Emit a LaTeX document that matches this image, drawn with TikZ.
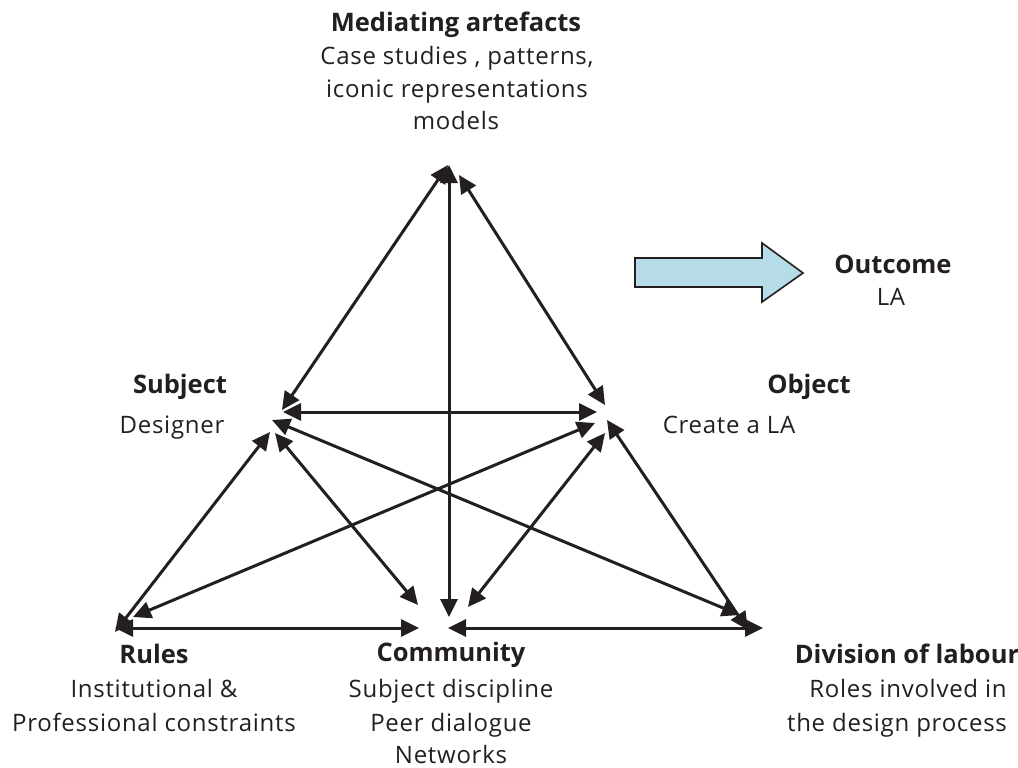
\documentclass[tikz,border=0pt]{standalone}
\usepackage{fontspec}
\setmainfont{Open Sans}
\newfontfamily\spacedfont[LetterSpace=3]{Open Sans}
\usetikzlibrary{arrows.meta}
\definecolor{ink}{HTML}{231F20}
\definecolor{flow}{HTML}{B5DCE7}
\begin{document}
\begin{tikzpicture}[x=1pt,y=-1pt,
  conn/.style={line width=3pt, draw=ink,
    {Triangle[length=18pt,width=17pt]}-{Triangle[length=18pt,width=17pt]}},
  lbl/.style={anchor=base, inner sep=0pt, text=ink, font=\spacedfont\fontsize{24}{30}\selectfont},
  ttl/.style={anchor=base, inner sep=0pt, text=ink, font=\fontsize{25.5}{30}\selectfont\bfseries}]
\useasboundingbox (0,0) rectangle (1018,768);

% --- end points around each corner of the activity triangle ---
% mediating artefacts (apex)
\coordinate (aL) at (448,165);
\coordinate (aV) at (449,165);
\coordinate (aR) at (459,175);
% subject
\coordinate (sT) at (282,410);
\coordinate (sH) at (283,412);
\coordinate (sD) at (272,420);
\coordinate (sR) at (270,432);
\coordinate (sC) at (275,433);
% object
\coordinate (oT) at (605,405);
\coordinate (oH) at (597,412);
\coordinate (oR) at (595,423);
\coordinate (oC) at (605,433);
\coordinate (oD) at (607,420);
% rules
\coordinate (rS) at (115,632);
\coordinate (rO) at (133,617);
\coordinate (rH) at (115,628);
% community
\coordinate (cS) at (418,605);
\coordinate (cV) at (449,617);
\coordinate (cO) at (468,607);
\coordinate (cL) at (419,628);
\coordinate (cR) at (448,628);
% division of labour
\coordinate (dS) at (740,615);
\coordinate (dO) at (748,630);
\coordinate (dH) at (763,628);

% --- double-headed relations ---
\draw[conn] (aL) -- (sT);
\draw[conn] (aR) -- (oT);
\draw[conn] (aV) -- (cV);
\draw[conn] (sH) -- (oH);
\draw[conn] (sR) -- (rS);
\draw[conn] (sC) -- (cS);
\draw[conn] (sD) -- (dS);
\draw[conn] (oR) -- (rO);
\draw[conn] (oC) -- (cO);
\draw[conn] (oD) -- (dO);
\draw[conn] (rH) -- (cL);
\draw[conn] (cR) -- (dH);

% --- block arrow towards the outcome ---
\draw[draw=ink, fill=flow, line width=1.6pt, line join=miter]
  (635,258) -- (762,258) -- (762,243) -- (803,273) -- (762,302) -- (762,287) -- (635,287) -- cycle;

% --- labels ---
\node[ttl] (medT) at (456,32) {Mediating artefacts};
\node[lbl] (med1) at (457,65) {Case studies , patterns,};
\node[lbl] (med2) at (457,97) {iconic representations};
\node[lbl] (med3) at (456,129) {models};

\node[ttl] (outT) at (893,273) {Outcome};
\node[lbl] (out1) at (891,305) {LA};

\node[ttl] (subT) at (180,393) {Subject};
\node[lbl] (sub1) at (172,433) {Designer};

\node[ttl] (objT) at (809,393) {Object};
\node[lbl] (obj1) at (729,433) {Create a LA};

\node[ttl] (rulT) at (154,663) {Rules};
\node[lbl] (rul1) at (154,697) {Institutional \&};
\node[lbl] (rul2) at (154,731) {Professional constraints};

\node[ttl] (comT) at (451,661) {Community};
\node[lbl] (com1) at (451,697) {Subject discipline};
\node[lbl] (com2) at (451,731) {Peer dialogue};
\node[lbl] (com3) at (451,763) {Networks};

\node[ttl] (divT) at (907,663) {Division of labour};
\node[lbl] (div1) at (908,697) {Roles involved in};
\node[lbl] (div2) at (897,731) {the design process};
\end{tikzpicture}
\end{document}
